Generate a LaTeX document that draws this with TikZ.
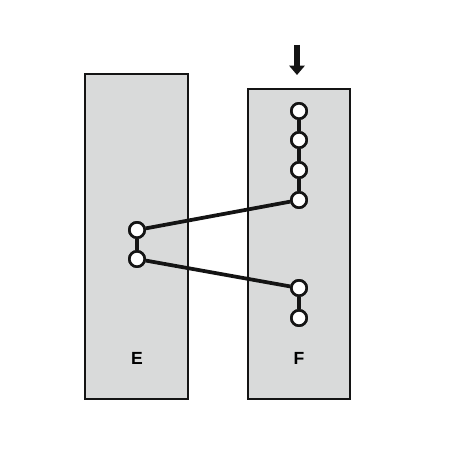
\documentclass[tikz,border=0pt]{standalone}
\usepackage{fontspec}
\setmainfont{Liberation Sans}
\usepackage{tikz}
\usetikzlibrary{arrows.meta}
\definecolor{panelGray}{RGB}{217,218,218}
\definecolor{edgeBlack}{RGB}{20,20,20}
\tikzset{
  panel/.style={draw=edgeBlack, fill=panelGray, line width=2.1pt},
  bead/.style={circle, draw=edgeBlack, fill=white, line width=2.2pt, minimum size=0.46cm, inner sep=0pt},
  link/.style={edgeBlack, line width=3.2pt},
  tag/.style={font=\bfseries\fontsize{15}{17}\selectfont}
}
\begin{document}
\begin{tikzpicture}[x=0.03cm,y=-0.03cm]
\useasboundingbox (0,0) rectangle (450,450);
\draw[panel] (85,74) rectangle (188,399);
\draw[panel] (248,89) rectangle (350,399);
\node[tag] (labE) at (137,358) {E};
\node[tag] (labF) at (299,358) {F};

% chain in F
\foreach \i/\y in {1/111,2/140,3/170,4/200,5/288,6/318}{
  \node[bead] (f\i) at (299,\y) {};
}
\node[bead] (e1) at (137,230) {};
\node[bead] (e2) at (137,259) {};

\draw[link] (f1)--(f2) (f2)--(f3) (f3)--(f4) (f5)--(f6);
\draw[link] (e1)--(e2);
\draw[link] (e1)--(f4);
\draw[link] (e2)--(f5);
% redraw beads over links
\foreach \n in {f1,f2,f3,f4,f5,f6,e1,e2}{
  \node[bead] at (\n) {};
}

\coordinate (inTop) at (297,45);
\coordinate (inTip) at (297,75);
\draw[edgeBlack, line width=4.3pt, -{Triangle[length=8pt,width=13pt]}] (inTop)--(inTip);
\end{tikzpicture}
\end{document}
